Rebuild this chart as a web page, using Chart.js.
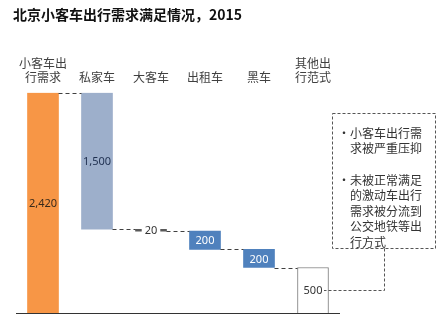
<!DOCTYPE html>
<html>
<head>
<meta charset="utf-8">
<script src="https://cdn.jsdelivr.net/npm/chart.js@4"></script>
<style>
  html, body { margin: 0; padding: 0; background: #fff; }
  #wrap { width: 444px; height: 332px; }
</style>
</head>
<body>
<div id="wrap"><canvas id="waterfall" width="444" height="332"></canvas></div>
<script>
const categories = [['小客车出', '行需求'], '私家车', '大客车', '出租车', '黑车', ['其他出', '行范式']];
const values = [2420, 1500, 20, 200, 200, 500];
const barColors = ['#F79646', '#9DAFCB', '#595959', '#4F81BD', '#4F81BD', '#FFFFFF'];
const labelColors = ['#3a2a1a', '#1F3050', '#333333', '#FFFFFF', '#FFFFFF', '#333333'];
const noteLines = [
  ['小客车出行需', '求被严重压抑'],
  ['未被正常满足', '的激动车出行', '需求被分流到', '公交地铁等出', '行方式']
];

// first and last are totals, the rest step down from the running level
const ranges = [];
let level = values[0];
ranges.push([0, values[0]]);
for (let i = 1; i < values.length - 1; i++) {
  ranges.push([level - values[i], level]);
  level -= values[i];
}
ranges.push([0, values[values.length - 1]]);

const cjk = '"Noto Sans CJK SC", "Noto Sans", sans-serif';

const extras = {
  id: 'extras',
  afterDatasetsDraw(chart) {
    const ctx = chart.ctx;
    const y = chart.scales.y;
    const bars = chart.getDatasetMeta(0).data;

    ctx.save();
    // title
    ctx.fillStyle = '#111';
    ctx.font = 'bold 14px ' + cjk;
    ctx.textAlign = 'left';
    ctx.textBaseline = 'middle';
    ctx.fillText('北京小客车出行需求满足情况，2015', 13, 15);

    // baseline
    ctx.strokeStyle = '#333';
    ctx.lineWidth = 1;
    ctx.beginPath();
    ctx.moveTo(chart.chartArea.left, Math.round(y.getPixelForValue(0)) + 0.5);
    ctx.lineTo(chart.chartArea.right, Math.round(y.getPixelForValue(0)) + 0.5);
    ctx.stroke();

    // connectors
    ctx.setLineDash([4, 3]);
    ctx.strokeStyle = '#404040';
    for (let i = 0; i < bars.length - 1; i++) {
      const lv = i === 0 ? ranges[0][1] : ranges[i][0];
      const py = Math.round(y.getPixelForValue(lv)) + 0.5;
      ctx.beginPath();
      ctx.moveTo(bars[i].x + bars[i].width / 2, py);
      ctx.lineTo(bars[i + 1].x - bars[i + 1].width / 2, py);
      ctx.stroke();
    }

    // value labels
    ctx.setLineDash([]);
    ctx.font = '11px "Noto Sans", sans-serif';
    ctx.textAlign = 'center';
    bars.forEach((b, i) => {
      const txt = values[i].toLocaleString('en-US');
      const cy = (y.getPixelForValue(ranges[i][0]) + y.getPixelForValue(ranges[i][1])) / 2;
      if (i === 2) {
        const w = ctx.measureText(txt).width;
        ctx.fillStyle = '#fff';
        ctx.fillRect(b.x - w / 2 - 3, cy - 7, w + 6, 14);
      }
      ctx.fillStyle = labelColors[i];
      ctx.fillText(txt, b.x, cy + 1);
    });

    // note box
    ctx.setLineDash([3, 2]);
    ctx.strokeStyle = '#555';
    ctx.strokeRect(332.5, 113.5, 103, 135);
    const last = bars[bars.length - 1];
    const ly = Math.round((y.getPixelForValue(ranges[5][0]) + y.getPixelForValue(ranges[5][1])) / 2) + 0.5;
    ctx.beginPath();
    ctx.moveTo(384.5, 248.5);
    ctx.lineTo(384.5, ly);
    ctx.lineTo(last.x + 11, ly);
    ctx.stroke();
    ctx.setLineDash([]);

    ctx.fillStyle = '#333';
    ctx.font = '12px ' + cjk;
    ctx.textAlign = 'left';
    let ty = 133;
    noteLines.forEach(para => {
      ctx.fillText('•', 338, ty);
      para.forEach(line => {
        ctx.fillText(line, 350, ty);
        ty += 15.5;
      });
      ty += 16;
    });
    ctx.restore();
  }
};

new Chart(document.getElementById('waterfall'), {
  type: 'bar',
  data: {
    labels: categories,
    datasets: [{
      data: ranges,
      backgroundColor: barColors,
      borderColor: ['rgba(0,0,0,0)', 'rgba(0,0,0,0)', 'rgba(0,0,0,0)', 'rgba(0,0,0,0)', 'rgba(0,0,0,0)', '#7F7F7F'],
      borderWidth: [0, 0, 0, 0, 0, 1],
      borderSkipped: 'start',
      barThickness: 31
    }]
  },
  options: {
    responsive: false,
    animation: false,
    layout: { padding: { top: 48, left: 16, right: 104, bottom: 19 } },
    plugins: { legend: { display: false }, tooltip: { enabled: false } },
    scales: {
      x: {
        position: 'top',
        grid: { display: false, drawTicks: false },
        border: { display: false },
        ticks: { color: '#404040', padding: 8, font: { size: 12, family: cjk }, maxRotation: 0, autoSkip: false }
      },
      y: { display: false, min: 0, max: 2420 }
    }
  },
  plugins: [extras]
});
</script>
</body>
</html>
